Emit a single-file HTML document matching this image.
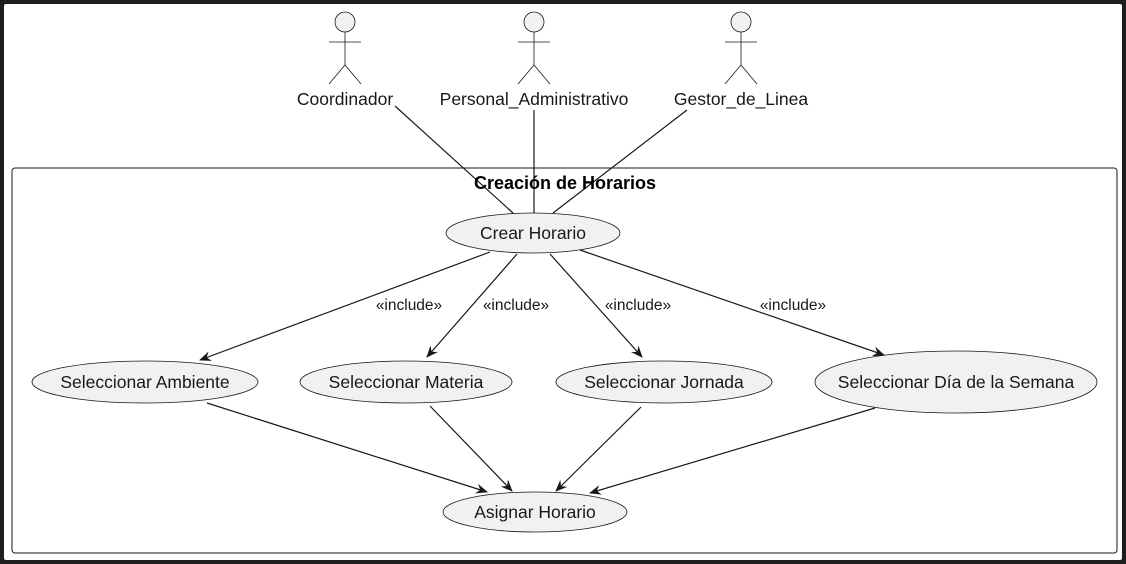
<!DOCTYPE html>
<html><head><meta charset="utf-8"><style>
html,body{margin:0;padding:0;background:#1e1e1e;}
svg{display:block;font-family:"Liberation Sans",sans-serif;}
</style></head><body>
<svg width="1126" height="564" viewBox="0 0 1126 564" xmlns="http://www.w3.org/2000/svg">
<defs><marker id="a" markerWidth="12" markerHeight="10" refX="11" refY="5" orient="auto" markerUnits="userSpaceOnUse"><path d="M0,0 L12,5 L0,10 L4,5 Z" fill="#181818"/></marker></defs>
<rect x="4" y="4" width="1118" height="556" rx="2" fill="#fff"/>
<g stroke="#181818" stroke-width="0.8" fill="none">
<circle cx="345" cy="22" r="10" fill="#f1f1f1"/><line x1="329" y1="42" x2="361" y2="42"/><line x1="345" y1="32" x2="345" y2="65"/><line x1="329" y1="84" x2="345" y2="65"/><line x1="361" y1="84" x2="345" y2="65"/>
<circle cx="534" cy="22" r="10" fill="#f1f1f1"/><line x1="518" y1="42" x2="550" y2="42"/><line x1="534" y1="32" x2="534" y2="65"/><line x1="518" y1="84" x2="534" y2="65"/><line x1="550" y1="84" x2="534" y2="65"/>
<circle cx="741" cy="22" r="10" fill="#f1f1f1"/><line x1="725" y1="42" x2="757" y2="42"/><line x1="741" y1="32" x2="741" y2="65"/><line x1="725" y1="84" x2="741" y2="65"/><line x1="757" y1="84" x2="741" y2="65"/>
</g>
<g font-size="17.5" fill="#181818" text-anchor="middle">
<text x="345" y="105">Coordinador</text>
<text x="534" y="105">Personal_Administrativo</text>
<text x="741" y="105">Gestor_de_Linea</text>
</g>
<rect x="12" y="168" width="1105" height="385" rx="3" fill="none" stroke="#181818" stroke-width="1"/>
<g stroke="#181818" stroke-width="1.2">
<line x1="395" y1="106" x2="513" y2="213"/>
<line x1="534" y1="110" x2="534" y2="213"/>
<line x1="687" y1="110" x2="553" y2="213"/>
</g>
<text x="565" y="189" font-size="18" font-weight="bold" text-anchor="middle" fill="#000">Creación de Horarios</text>
<g fill="#f1f1f1" stroke="#181818" stroke-width="0.8">
<ellipse cx="533" cy="233" rx="87" ry="20"/>
<ellipse cx="145" cy="382" rx="113" ry="21"/>
<ellipse cx="406" cy="382" rx="106" ry="21"/>
<ellipse cx="664" cy="382" rx="108" ry="21"/>
<ellipse cx="956" cy="382" rx="141" ry="31"/>
<ellipse cx="535" cy="512" rx="92" ry="20"/>
</g>
<g stroke="#181818" stroke-width="1.2" marker-end="url(#a)">
<line x1="490" y1="252" x2="200" y2="360"/>
<line x1="517" y1="254" x2="427" y2="357"/>
<line x1="550" y1="254" x2="642" y2="357"/>
<line x1="580" y1="250" x2="884" y2="355"/>
<line x1="207" y1="403" x2="487" y2="492"/>
<line x1="430" y1="406" x2="512" y2="491"/>
<line x1="641" y1="407" x2="556" y2="491"/>
<line x1="875" y1="408" x2="590" y2="493"/>
</g>
<g font-size="15.5" fill="#181818" text-anchor="middle">
<text x="409" y="310">«include»</text>
<text x="516" y="310">«include»</text>
<text x="638" y="310">«include»</text>
<text x="793" y="310">«include»</text>
</g>
<g font-size="17.5" fill="#181818" text-anchor="middle">
<text x="533" y="239">Crear Horario</text>
<text x="145" y="388">Seleccionar Ambiente</text>
<text x="406" y="388">Seleccionar Materia</text>
<text x="664" y="388">Seleccionar Jornada</text>
<text x="956" y="388">Seleccionar Día de la Semana</text>
<text x="535" y="518">Asignar Horario</text>
</g>
</svg>
</body></html>
